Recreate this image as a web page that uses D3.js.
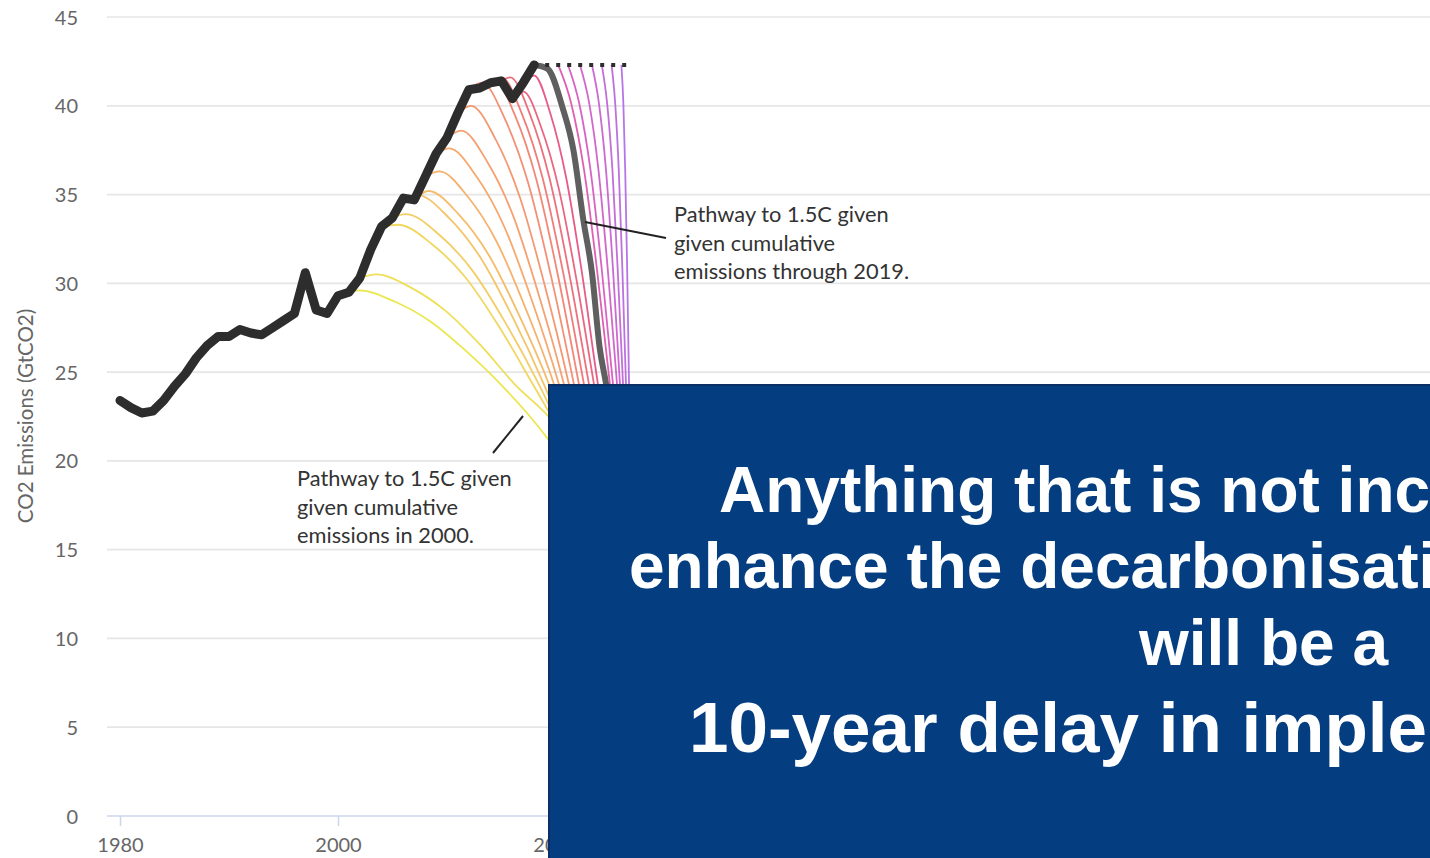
<!DOCTYPE html>
<html><head><meta charset="utf-8">
<script src="https://cdn.jsdelivr.net/npm/d3@7"></script>
<style>html,body{margin:0;padding:0;background:#fff;overflow:hidden}</style>
</head><body><svg id="c" width="1430" height="858"></svg>
<script>
// ---------- data ----------
const histYears = [1980,1981,1982,1983,1984,1985,1986,1987,1988,1989,1990,1991,1992,1993,1994,1995,1996,1997,1998,1999,
  2000,2001,2002,2003,2004,2005,2006,2007,2008,2009,2010,2011,2012,2013,2014,2015,2016,2017,2018];
const histValues = [23.4,23.0,22.7,22.8,23.4,24.2,24.9,25.8,26.5,27.0,27.0,27.4,27.2,27.1,27.5,27.9,28.3,30.6,28.5,28.3,
  29.3,29.5,30.3,31.9,33.2,33.7,34.8,34.7,36.0,37.3,38.2,39.6,40.9,41.0,41.3,41.4,40.4,41.3,42.3];

const yTicks = [0,5,10,15,20,25,30,35,40,45];
const xTicks = [1980,2000,2020];

// pathways starting from historical emissions (year, GtCO2)
const pathwayStartYears = [2000,2002,2004,2005,2006,2007,2008,2009,2010,2011,2012,2013,2014,2015,2016,2017];
const pathways = [
  [[2000,29.3],[2002,29.6],[2005.24,28.96],[2008.48,27.85],[2011.71,26.21],[2014.95,24.3],[2019.17,21.3],[2024,16.5]],
  [[2002,30.3],[2003.5,30.5],[2006.69,29.76],[2009.87,28.45],[2013.06,26.53],[2016.24,24.3],[2019.36,22.47],[2024,18.5]],
  [[2004,33.2],[2005.5,33.3],[2008.6,32.22],[2011.7,30.33],[2014.8,27.54],[2017.89,24.3],[2019.4,22.7],[2025,17]],
  [[2005,33.7],[2006.2,33.9],[2009.26,32.75],[2012.32,30.73],[2015.38,27.76],[2018.44,24.3],[2021.5,20.3]],
  [[2006,34.8],[2007.2,35.0],[2010.13,33.72],[2013.05,31.47],[2015.98,28.15],[2018.9,24.3],[2022,19.5]],
  [[2007,34.7],[2008.3,35.2],[2011.07,33.89],[2013.83,31.6],[2016.6,28.22],[2019.36,24.3],[2022.5,18.5]],
  [[2008,36.0],[2009.3,36.3],[2011.93,34.86],[2014.56,32.34],[2017.19,28.62],[2019.82,24.3],[2022.5,18.5]],
  [[2009,37.3],[2010.2,37.6],[2012.72,36.0],[2015.24,33.21],[2017.76,29.09],[2020.28,24.3],[2023,18]],
  [[2010,38.2],[2011.3,38.6],[2013.66,36.88],[2016.02,33.88],[2018.37,29.45],[2020.73,24.3],[2023,18]],
  [[2011,39.6],[2012.2,40.0],[2014.45,38.12],[2016.7,34.82],[2018.94,29.95],[2021.19,24.3],[2023.5,17.5]],
  [[2012,40.9],[2013.2,41.3],[2015.31,39.26],[2017.43,35.69],[2019.54,30.42],[2021.65,24.3],[2023.8,17.5]],
  [[2013,41.0],[2014.3,41.5],[2016.25,39.44],[2018.21,35.82],[2020.16,30.5],[2022.11,24.3],[2024.2,17.5]],
  [[2014,41.3],[2015,41.6],[2016.89,39.52],[2018.79,35.89],[2020.68,30.53],[2022.57,24.3],[2024.6,17.5]],
  [[2015,41.4],[2015.8,41.6],[2017.61,39.52],[2019.42,35.89],[2021.22,30.53],[2023.03,24.3],[2025,17.5]],
  [[2016,40.4],[2017,40.8],[2018.62,38.82],[2020.25,35.35],[2021.87,30.24],[2023.49,24.3],[2025.4,17.5]],
  [[2017,41.3],[2018,41.7],[2019.46,39.61],[2020.93,35.96],[2022.39,30.56],[2023.85,24.3],[2025.7,17.5]]
];
// delayed pathways (emissions held flat, then cut)
const delayedStartYears = [2020,2021,2022,2023,2024,2025,2026];
const delayedPathways = [
  [[2020.2,42.3],[2021.39,40.14],[2022.58,36.36],[2023.76,30.78],[2024.95,24.3],[2026.5,15]],
  [[2021.1,42.3],[2022.13,40.14],[2023.17,36.36],[2024.2,30.78],[2025.23,24.3],[2026.6,15]],
  [[2022.2,42.3],[2023.05,40.14],[2023.9,36.36],[2024.75,30.78],[2025.6,24.3],[2026.8,15]],
  [[2023.3,42.3],[2023.94,40.14],[2024.59,36.36],[2025.23,30.78],[2025.87,24.3],[2026.9,15]],
  [[2024.2,42.3],[2024.69,40.14],[2025.18,36.36],[2025.66,30.78],[2026.15,24.3],[2027,15]],
  [[2025.1,42.3],[2025.43,40.14],[2025.76,36.36],[2026.09,30.78],[2026.42,24.3],[2027.1,15]],
  [[2026,42.3],[2026.18,40.14],[2026.35,36.36],[2026.53,30.78],[2026.7,24.3],[2027.2,15]]
];
const pathway2019 = [[2018,42.3],[2019.2,42.1],[2020.6,39.9],[2021.6,37.5],[2022.5,33.6],[2023.3,30.6],[2024.0,26.4],[2024.6,24.3],[2026,17]];
const flatLine = [[2018,42.3],[2027,42.3]];

const annotationTop = ["Pathway to 1.5C given","given cumulative","emissions through 2019."];
const annotationBottom = ["Pathway to 1.5C given","given cumulative","emissions in 2000."];
const boxLines = ["Anything that is not included in the NDCs to","enhance the decarbonisation of the economy","will be a","10-year delay in implementation"];

// ---------- drawing ----------
const svg = d3.select('#c');
const W = 1430, H = 858;
const x = d3.scaleLinear().domain([1980,2020]).range([120,556]);
const y = d3.scaleLinear().domain([0,45]).range([816,17]);
const FONT = "Lato, 'Open Sans', sans-serif";

// gridlines
svg.append('g').selectAll('line').data(yTicks.filter(d=>d>0)).join('line')
  .attr('x1',107).attr('x2',W).attr('y1',d=>y(d)).attr('y2',d=>y(d))
  .attr('stroke','#e6e6e6').attr('stroke-width',1.7);
svg.append('line').attr('x1',107).attr('x2',W).attr('y1',y(0)).attr('y2',y(0))
  .attr('stroke','#ccd6eb').attr('stroke-width',1.5);

// y axis
const ya = svg.append('g').attr('transform','translate(80,0)')
  .call(d3.axisLeft(y).tickValues(yTicks).tickSize(0).tickPadding(2));
ya.select('.domain').remove();
ya.selectAll('text').attr('font-family',FONT).attr('font-size',20).attr('fill','#666').attr('dy','0.35em');

// x axis
const xa = svg.append('g').attr('transform',`translate(0,${y(0)})`)
  .call(d3.axisBottom(x).tickValues(xTicks).tickSize(10).tickPadding(12).tickFormat(d3.format('d')));
xa.select('.domain').remove();
xa.selectAll('line').attr('stroke','#ccd6eb').attr('stroke-width',1.5);
xa.selectAll('text').attr('font-family',FONT).attr('font-size',20).attr('fill','#666');

// y title
svg.append('text').attr('transform','translate(33,416) rotate(-90)')
  .attr('text-anchor','middle').attr('font-family',FONT).attr('font-size',20.5).attr('fill','#666')
  .text('CO2 Emissions (GtCO2)');

const line = d3.line().x(d=>x(d[0])).y(d=>y(d[1])).curve(d3.curveMonotoneX);
const nCol = pathways.length + delayedPathways.length;
const col = d3.scaleLinear()
  .domain([0,0.12,0.3,0.5,0.68,0.74,1])
  .range(["#e8e43c","#f2cd55","#f5a45e","#f17a68","#e44a78","#d94fb8","#ad66e4"])
  .interpolate(d3.interpolateRgb);

const pg = svg.append('g');
pathways.forEach((p,i)=>{
  pg.append('path').attr('d',line(p)).attr('fill','none')
    .attr('stroke',col(i/(nCol-1))).attr('stroke-width',1.8).attr('stroke-opacity',0.9);
});
delayedPathways.forEach((p,i)=>{
  pg.append('path').attr('d',line(p)).attr('fill','none')
    .attr('stroke',col((pathways.length+i)/(nCol-1))).attr('stroke-width',1.8).attr('stroke-opacity',0.9);
});
// 2019 pathway (grey)
svg.append('path').attr('d',line(pathway2019)).attr('fill','none')
  .attr('stroke','#5f5f5f').attr('stroke-width',6).attr('stroke-linecap','round');

// historical line
const hist = histYears.map((yr,i)=>[yr,histValues[i]]);
svg.append('path').attr('d',d3.line().x(d=>x(d[0])).y(d=>y(d[1]))(hist)).attr('fill','none')
  .attr('stroke','#2d2d2d').attr('stroke-width',9).attr('stroke-linejoin','round').attr('stroke-linecap','round');

// flat dotted line
svg.append('path').attr('d',d3.line().x(d=>x(d[0])).y(d=>y(d[1]))(flatLine)).attr('fill','none')
  .attr('stroke','#2d2d2d').attr('stroke-width',4).attr('stroke-dasharray','4,7');

// annotations
function annot(lines,x0,y0){
  const t = svg.append('text').attr('font-family',FONT).attr('font-size',21.8).attr('fill','#333');
  lines.forEach((s,i)=>t.append('tspan').attr('x',x0).attr('y',y0+i*28.5).text(s));
}
annot(annotationTop,674,222);
svg.append('line').attr('x1',585).attr('y1',222).attr('x2',666).attr('y2',238).attr('stroke','#222').attr('stroke-width',2);
annot(annotationBottom,297,486);
svg.append('line').attr('x1',493).attr('y1',453).attr('x2',523).attr('y2',416).attr('stroke','#222').attr('stroke-width',2);

// overlay box
svg.append('rect').attr('x',549).attr('y',385).attr('width',W-549+10).attr('height',H-385+10)
  .attr('fill','#043e81').attr('stroke','#0a2f66').attr('stroke-width',2);
const bx = [719,629,1139,689], by = [512,588,665,752], bs = [64,64,64,71];
boxLines.forEach((s,i)=>{
  svg.append('text').attr('x',bx[i]).attr('y',by[i])
    .attr('font-family',"'Liberation Sans', Arial, sans-serif").attr('font-weight','bold')
    .attr('font-size',bs[i]).attr('fill','#fff').text(s);
});
</script></body></html>
